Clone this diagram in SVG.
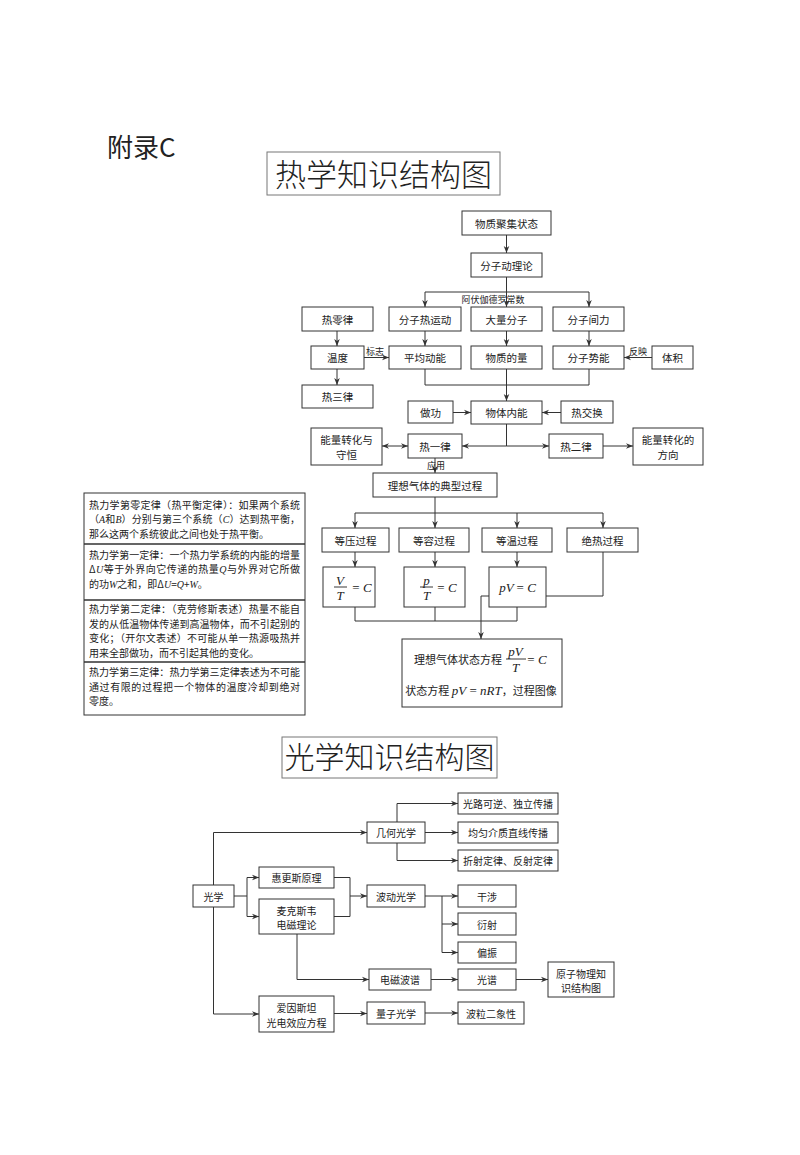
<svg xmlns="http://www.w3.org/2000/svg" width="800" height="1155" viewBox="0 0 800 1155">
<defs>
<style>
.box{fill:#fff;stroke:#333;stroke-width:1}
.tbox{fill:#fff;stroke:#777;stroke-width:1}
.lbl{font-family:"Noto Sans CJK SC","Noto Sans",sans-serif;font-size:10.5px;fill:#222;text-anchor:middle;dominant-baseline:central}
.ol{font-size:10px}
.sm{font-family:"Noto Sans CJK SC",sans-serif;font-size:9px;fill:#222;text-anchor:middle;dominant-baseline:central}
.ln{fill:none;stroke:#333;stroke-width:1}
.arr{marker-end:url(#ah)}
.dbl{marker-start:url(#ah);marker-end:url(#ah)}
.fm{font-family:"Liberation Serif",serif;font-style:italic;font-size:13px;fill:#222;text-anchor:middle;dominant-baseline:central}
.fn{font-family:"Liberation Serif",serif;font-style:normal}
.note{font-family:"Noto Sans CJK SC",sans-serif;font-size:10px;fill:#222}
.it{font-family:"Liberation Serif",serif;font-style:italic}
.title{font-family:"Noto Sans CJK SC",sans-serif;font-weight:300;fill:#222;text-anchor:middle}
</style>
<marker id="ah" viewBox="0 0 10 10" refX="10" refY="5" markerWidth="7" markerHeight="7" markerUnits="userSpaceOnUse" orient="auto-start-reverse">
<path d="M0,1 L10,5 L0,9 L3,5 z" fill="#333"/>
</marker>
</defs>
<rect width="800" height="1155" fill="#fff"/>

<text x="107" y="157" font-family="'Noto Sans CJK SC',sans-serif" font-size="26" font-weight="400" fill="#222">附录C</text>

<g id="title-thermal">
<rect class="tbox" x="267" y="152" width="233" height="43"/>
<text class="title" x="383.5" y="186" font-size="31">热学知识结构图</text>
</g>

<g id="connectors">
<path class="ln arr" d="M506.5,235 V253"/>
<path class="ln" d="M506.5,277 V292 M425,292 H589"/>
<path class="ln arr" d="M425,292 V307"/>
<path class="ln arr" d="M506.5,292 V307"/>
<path class="ln arr" d="M589,292 V307"/>
<path class="ln arr" d="M337,331 V346"/>
<path class="ln arr" d="M337,369 V385"/>
<path class="ln arr" d="M364,357.5 H389"/>
<path class="ln arr" d="M425,331 V346"/>
<path class="ln arr" d="M506.5,331 V346"/>
<path class="ln arr" d="M589,331 V346"/>
<path class="ln arr" d="M652,357.5 H624"/>
<path class="ln" d="M425,369 V385 H589 V369"/>
<path class="ln arr" d="M506.5,369 V401"/>
<path class="ln arr" d="M453,412.5 H471"/>
<path class="ln arr" d="M561,412.5 H542"/>
<path class="ln" d="M506.5,424 V446"/>
<path class="ln arr" d="M506.5,446 H462"/>
<path class="ln arr" d="M506.5,446 H549"/>
<path class="ln dbl" d="M382,446 H408"/>
<path class="ln arr" d="M603,446 H633"/>
<path class="ln arr" d="M435,458 V473"/>
<path class="ln" d="M435,497 V513 M355,513 H603"/>
<path class="ln arr" d="M355,513 V528"/>
<path class="ln arr" d="M435,513 V528"/>
<path class="ln arr" d="M517,513 V528"/>
<path class="ln arr" d="M603,513 V528"/>
<path class="ln arr" d="M355,552 V567"/>
<path class="ln arr" d="M435,552 V567"/>
<path class="ln arr" d="M517,552 V567"/>
<path class="ln" d="M355,607 V621 M435,607 V621 M517,607 V621 M355,621 H517"/>
<path class="ln arr" d="M603,552 V596 H481 V639"/>

<path class="ln arr" d="M425,832.5 H458"/>
<path class="ln arr" d="M397,822 V803.5 H458"/>
<path class="ln arr" d="M397,843 V860.5 H458"/>
<path class="ln arr" d="M213.5,885 V832.5 H367"/>
<path class="ln" d="M234,896 H247 M247,877.5 V916.5"/>
<path class="ln arr" d="M247,877.5 H259"/>
<path class="ln arr" d="M247,916.5 H259"/>
<path class="ln" d="M334,877.5 H350 V916.5 H334"/>
<path class="ln arr" d="M350,896 H367"/>
<path class="ln arr" d="M425,896 H458"/>
<path class="ln" d="M442,896 V952.5"/>
<path class="ln arr" d="M442,924 H458"/>
<path class="ln arr" d="M442,952.5 H458"/>
<path class="ln arr" d="M297,934 V979.5 H369"/>
<path class="ln arr" d="M431,979.5 H458"/>
<path class="ln arr" d="M516,979.5 H548"/>
<path class="ln arr" d="M213.5,907 V1014 H259"/>
<path class="ln arr" d="M334,1013.5 H367"/>
<path class="ln arr" d="M425,1013 H458"/>
</g>

<g id="edge-labels">
<text class="sm" x="493" y="299">阿伏伽德罗常数</text>
<text class="sm" x="375" y="351">标志</text>
<text class="sm" x="638" y="351">反映</text>
<text class="sm" x="436" y="465">应用</text>
</g>

<g id="n-wuzhi"><rect class="box" x="462" y="211" width="89" height="24"/><text class="lbl" x="506.5" y="223">物质聚集状态</text></g>
<g id="n-fenzidongli"><rect class="box" x="471" y="253" width="71" height="24"/><text class="lbl" x="506.5" y="265">分子动理论</text></g>
<g id="n-relinglv"><rect class="box" x="302" y="307" width="71" height="24"/><text class="lbl" x="337.5" y="319">热零律</text></g>
<g id="n-fenzireyundong"><rect class="box" x="389" y="307" width="72" height="24"/><text class="lbl" x="425" y="319">分子热运动</text></g>
<g id="n-daliangfenzi"><rect class="box" x="471" y="307" width="71" height="24"/><text class="lbl" x="506.5" y="319">大量分子</text></g>
<g id="n-fenzijianli"><rect class="box" x="553" y="307" width="71" height="24"/><text class="lbl" x="588.5" y="319">分子间力</text></g>
<g id="n-wendu"><rect class="box" x="311" y="346" width="53" height="23"/><text class="lbl" x="337.5" y="357.5">温度</text></g>
<g id="n-pingjundongneng"><rect class="box" x="389" y="346" width="72" height="23"/><text class="lbl" x="425" y="357.5">平均动能</text></g>
<g id="n-wuzhideliang"><rect class="box" x="471" y="346" width="71" height="23"/><text class="lbl" x="506.5" y="357.5">物质的量</text></g>
<g id="n-fenzishineng"><rect class="box" x="553" y="346" width="71" height="23"/><text class="lbl" x="588.5" y="357.5">分子势能</text></g>
<g id="n-tiji"><rect class="box" x="652" y="346" width="41" height="23"/><text class="lbl" x="672.5" y="357.5">体积</text></g>
<g id="n-resanlv"><rect class="box" x="302" y="385" width="71" height="23"/><text class="lbl" x="337.5" y="396.5">热三律</text></g>
<g id="n-zuogong"><rect class="box" x="408" y="401" width="45" height="22"/><text class="lbl" x="430.5" y="412">做功</text></g>
<g id="n-wutineineng"><rect class="box" x="471" y="401" width="71" height="23"/><text class="lbl" x="506.5" y="412.5">物体内能</text></g>
<g id="n-rejiaohuan"><rect class="box" x="561" y="401" width="52" height="22"/><text class="lbl" x="587" y="412">热交换</text></g>
<g id="n-nengliangshouheng"><rect class="box" x="311" y="428" width="71" height="37"/><text class="lbl" x="346.5" y="439.5">能量转化与</text><text class="lbl" x="346.5" y="454">守恒</text></g>
<g id="n-reyilv"><rect class="box" x="408" y="434" width="54" height="24"/><text class="lbl" x="435" y="446">热一律</text></g>
<g id="n-reerlv"><rect class="box" x="549" y="434" width="54" height="24"/><text class="lbl" x="576" y="446">热二律</text></g>
<g id="n-nengliangfangxiang"><rect class="box" x="633" y="428" width="70" height="37"/><text class="lbl" x="668" y="439.5">能量转化的</text><text class="lbl" x="668" y="454">方向</text></g>
<g id="n-lixiangqiti"><rect class="box" x="373" y="473" width="124" height="24"/><text class="lbl" x="435" y="485">理想气体的典型过程</text></g>
<g id="n-dengya"><rect class="box" x="322" y="528" width="67" height="24"/><text class="lbl" x="355.5" y="540">等压过程</text></g>
<g id="n-dengrong"><rect class="box" x="399" y="528" width="70" height="24"/><text class="lbl" x="434" y="540">等容过程</text></g>
<g id="n-dengwen"><rect class="box" x="482" y="528" width="70" height="24"/><text class="lbl" x="517" y="540">等温过程</text></g>
<g id="n-juere"><rect class="box" x="567" y="528" width="71" height="24"/><text class="lbl" x="602.5" y="540">绝热过程</text></g>
<g id="n-vt"><rect class="box" x="323" y="567" width="52" height="40"/>
<text class="fm" x="340" y="580">V</text><line x1="334" y1="587" x2="347" y2="587" stroke="#222" stroke-width="0.9"/><text class="fm" x="340" y="595">T</text><text class="fm" x="362" y="587"><tspan class="fn">=</tspan> C</text></g>
<g id="n-pt"><rect class="box" x="404" y="567" width="61" height="40"/>
<text class="fm" x="426.5" y="580">p</text><line x1="420" y1="587" x2="433" y2="587" stroke="#222" stroke-width="0.9"/><text class="fm" x="426.5" y="595">T</text><text class="fm" x="447" y="587"><tspan class="fn">=</tspan> C</text></g>
<g id="n-pv"><rect class="box" x="489" y="567" width="57" height="40"/>
<text class="fm" x="517.5" y="587">pV <tspan class="fn">=</tspan> C</text></g>
<g id="n-zhuangtai"><rect class="box" x="402" y="639" width="160" height="68"/>
<text class="lbl" x="458" y="658.5" style="font-size:11px">理想气体状态方程</text>
<text class="fm" x="515.5" y="651">pV</text><line x1="506" y1="659" x2="526" y2="659" stroke="#222" stroke-width="0.9"/><text class="fm" x="515.5" y="667">T</text><text class="fm" x="537" y="659"><tspan class="fn">=</tspan> C</text>
<text x="481" y="690" class="lbl" style="font-size:11px">状态方程 <tspan class="it" style="font-size:13px">pV</tspan><tspan style="font-family:'Liberation Serif',serif;font-size:13px"> = </tspan><tspan class="it" style="font-size:13px">nRT</tspan>，过程图像</text>
</g>

<g id="laws-box">
<rect x="84" y="493" width="221" height="222" fill="#fff" stroke="#333" stroke-width="1"/>
<path d="M84,544 H305 M84,600 H305 M84,662 H305" stroke="#333" stroke-width="1.5" fill="none"/>
<text class="note" x="89" y="508.5" textLength="211" lengthAdjust="spacing">热力学第零定律（热平衡定律）：如果两个系统</text>
<text class="note" x="89" y="523" textLength="211" lengthAdjust="spacing">（<tspan class="it">A</tspan>和<tspan class="it">B</tspan>）分别与第三个系统（<tspan class="it">C</tspan>）达到热平衡，</text>
<text class="note" x="89" y="537.5">那么这两个系统彼此之间也处于热平衡。</text>
<text class="note" x="89" y="558.5" textLength="211" lengthAdjust="spacing">热力学第一定律：一个热力学系统的内能的增量</text>
<text class="note" x="89" y="573" textLength="211" lengthAdjust="spacing">Δ<tspan class="it">U</tspan>等于外界向它传递的热量<tspan class="it">Q</tspan>与外界对它所做</text>
<text class="note" x="89" y="587.5">的功<tspan class="it">W</tspan>之和，即Δ<tspan class="it">U</tspan>=<tspan class="it">Q</tspan>+<tspan class="it">W</tspan>。</text>
<text class="note" x="89" y="613" textLength="211" lengthAdjust="spacing">热力学第二定律：（克劳修斯表述）热量不能自</text>
<text class="note" x="89" y="627.5" textLength="211" lengthAdjust="spacing">发的从低温物体传递到高温物体，而不引起别的</text>
<text class="note" x="89" y="642" textLength="211" lengthAdjust="spacing">变化；（开尔文表述）不可能从单一热源吸热并</text>
<text class="note" x="89" y="656.5">用来全部做功，而不引起其他的变化。</text>
<text class="note" x="89" y="676" textLength="211" lengthAdjust="spacing">热力学第三定律：热力学第三定律表述为不可能</text>
<text class="note" x="89" y="690.5" textLength="211" lengthAdjust="spacing">通过有限的过程把一个物体的温度冷却到绝对</text>
<text class="note" x="89" y="705">零度。</text>
</g>

<g id="title-optics">
<rect class="tbox" x="282" y="737" width="215" height="41"/>
<text class="title" x="389.5" y="768" font-size="30">光学知识结构图</text>
</g>

<g id="o-guanglu"><rect class="box" x="458" y="793" width="100" height="21"/><text class="lbl ol" x="508" y="803.5">光路可逆、独立传播</text></g>
<g id="o-junyun"><rect class="box" x="458" y="822" width="100" height="21"/><text class="lbl ol" x="508" y="832.5">均匀介质直线传播</text></g>
<g id="o-zheshe"><rect class="box" x="458" y="850" width="100" height="21"/><text class="lbl ol" x="508" y="860.5">折射定律、反射定律</text></g>
<g id="o-jihe"><rect class="box" x="367" y="822" width="58" height="21"/><text class="lbl ol" x="396" y="832.5">几何光学</text></g>
<g id="o-guangxue"><rect class="box" x="193" y="885" width="41" height="22"/><text class="lbl ol" x="213.5" y="896">光学</text></g>
<g id="o-huygens"><rect class="box" x="259" y="867" width="75" height="21"/><text class="lbl ol" x="296.5" y="877.5">惠更斯原理</text></g>
<g id="o-maxwell"><rect class="box" x="259" y="899" width="75" height="35"/><text class="lbl ol" x="296.5" y="910">麦克斯韦</text><text class="lbl ol" x="296.5" y="924">电磁理论</text></g>
<g id="o-bodong"><rect class="box" x="367" y="885" width="58" height="22"/><text class="lbl ol" x="396" y="896">波动光学</text></g>
<g id="o-ganshe"><rect class="box" x="458" y="885" width="58" height="22"/><text class="lbl ol" x="487" y="896">干涉</text></g>
<g id="o-yanshe"><rect class="box" x="458" y="913" width="58" height="22"/><text class="lbl ol" x="487" y="924">衍射</text></g>
<g id="o-pianzhen"><rect class="box" x="458" y="942" width="58" height="21"/><text class="lbl ol" x="487" y="952.5">偏振</text></g>
<g id="o-dianci"><rect class="box" x="369" y="969" width="62" height="21"/><text class="lbl ol" x="400" y="979.5">电磁波谱</text></g>
<g id="o-guangpu"><rect class="box" x="458" y="969" width="58" height="21"/><text class="lbl ol" x="487" y="979.5">光谱</text></g>
<g id="o-yuanzi"><rect class="box" x="548" y="962" width="66" height="35"/><text class="lbl ol" x="581" y="973">原子物理知</text><text class="lbl ol" x="581" y="987">识结构图</text></g>
<g id="o-einstein"><rect class="box" x="259" y="996" width="75" height="36"/><text class="lbl ol" x="296.5" y="1007">爱因斯坦</text><text class="lbl ol" x="296.5" y="1022">光电效应方程</text></g>
<g id="o-liangzi"><rect class="box" x="367" y="1002" width="58" height="22"/><text class="lbl ol" x="396" y="1013">量子光学</text></g>
<g id="o-boli"><rect class="box" x="458" y="1002" width="66" height="22"/><text class="lbl ol" x="491" y="1013">波粒二象性</text></g>
</svg>
